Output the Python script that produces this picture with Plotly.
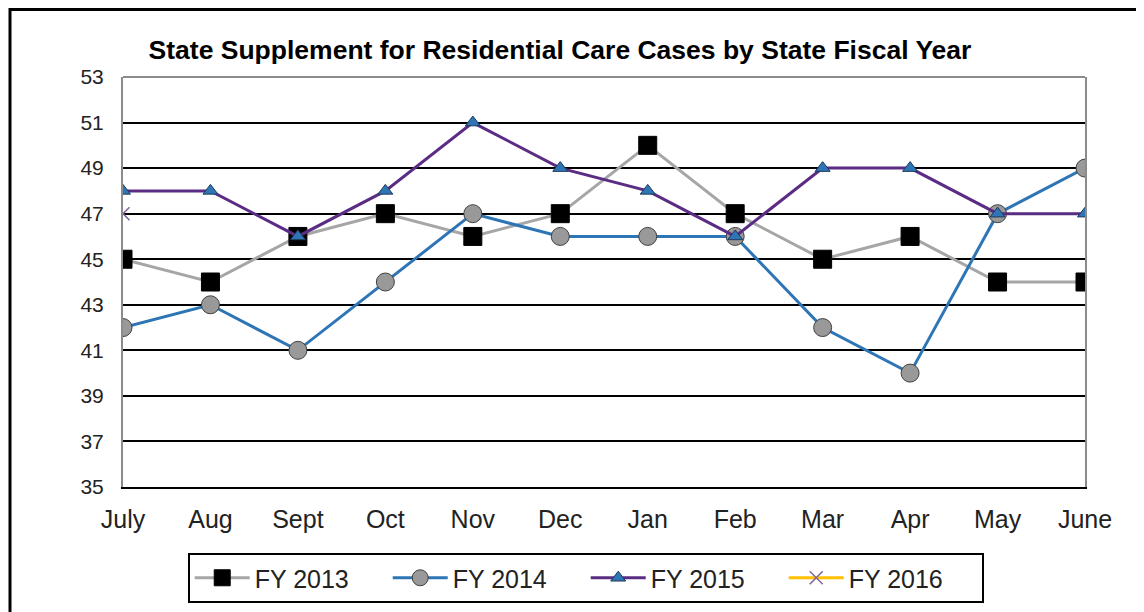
import plotly.graph_objects as go

months = ["July", "Aug", "Sept", "Oct", "Nov", "Dec", "Jan", "Feb", "Mar", "Apr", "May", "June"]
fy2013 = [45, 44, 46, 47, 46, 47, 50, 47, 45, 46, 44, 44]
fy2014 = [42, 43, 41, 44, 47, 46, 46, 46, 42, 40, 47, 49]
fy2015 = [48, 48, 46, 48, 51, 49, 48, 46, 49, 49, 47, 47]
fy2016 = [47]
y_ticks = [35, 37, 39, 41, 43, 45, 47, 49, 51, 53]

FONT = "Liberation Sans, Arial, sans-serif"

# page body has an 8px margin; figure coordinates are compensated for it
L, T, PW, PH = 115, 69, 962, 410
W, H = 1144, 612

fig = go.Figure()
fig.add_trace(go.Scatter(
    x=months, y=fy2013, name="FY 2013", mode="lines+markers",
    line=dict(color="#A6A6A6", width=3),
    marker=dict(symbol="square", size=18, color="#000000", line=dict(color="#000000", width=1)),
))
fig.add_trace(go.Scatter(
    x=months, y=fy2014, name="FY 2014", mode="lines+markers",
    line=dict(color="#2E75B6", width=3),
    marker=dict(symbol="circle", size=18, color="#999999", line=dict(color="#404040", width=1)),
))
fig.add_trace(go.Scatter(
    x=months, y=fy2015, name="FY 2015", mode="lines+markers",
    line=dict(color="#5B2C83", width=3),
    marker=dict(symbol="triangle-up", size=13, color="#2E75B6", line=dict(color="#1F3A5A", width=1)),
))
fig.add_trace(go.Scatter(
    x=months[:len(fy2016)], y=fy2016, name="FY 2016", mode="lines+markers",
    line=dict(color="#FFC000", width=3),
    marker=dict(symbol="x-thin", size=13, color="#8064A2", line=dict(color="#8064A2", width=1.5)),
))

fig.update_layout(
    width=W, height=H,
    paper_bgcolor="white", plot_bgcolor="white",
    margin=dict(l=L, r=W - L - PW, t=T, b=H - T - PH),
    font=dict(family=FONT, size=24, color="#222222"),
    title=dict(
        text="<b>State Supplement for Residential Care Cases by State Fiscal Year</b>",
        x=552 / W, xanchor="center", y=1 - 42 / H, yanchor="middle",
        font=dict(family=FONT, size=26.5, color="#000000"),
    ),
    showlegend=True,
    legend=dict(
        orientation="h", x=0.481, xanchor="center", y=-0.222, yanchor="middle",
        bordercolor="#000000", borderwidth=2, bgcolor="white",
        font=dict(family=FONT, size=25, color="#222222"),
        itemwidth=55, tracegroupgap=0,
        entrywidth=128, entrywidthmode="pixels",
    ),
)
fig.update_xaxes(
    type="category", categoryorder="array", categoryarray=months,
    range=[0, len(months) - 1],
    showgrid=False, showline=True, linecolor="#000000", linewidth=2,
    ticks="outside", ticklen=9, tickcolor="rgba(0,0,0,0)",
    tickfont=dict(family=FONT, size=25, color="#222222"),
    zeroline=False,
)
fig.update_yaxes(
    range=[35, 53], tickvals=y_ticks, ticktext=[str(v) for v in y_ticks],
    showgrid=True, gridcolor="#000000", gridwidth=2,
    showline=True, linecolor="#8C8C8C", linewidth=2, mirror=True,
    ticks="outside", ticklen=13, tickcolor="rgba(0,0,0,0)",
    tickfont=dict(family=FONT, size=21, color="#222222"),
    zeroline=False,
)
# top plot-area border (gray)
fig.add_shape(type="line", xref="paper", yref="paper", x0=0, x1=1, y0=1, y1=1,
              line=dict(color="#8C8C8C", width=2))
# outer chart border
fig.add_shape(type="rect", xref="paper", yref="paper",
              x0=(2 - L) / PW, x1=1.3, y0=-0.6, y1=(T + PH - 1.5) / PH,
              line=dict(color="#000000", width=3), fillcolor="rgba(0,0,0,0)")

fig.write_html("out.html")
